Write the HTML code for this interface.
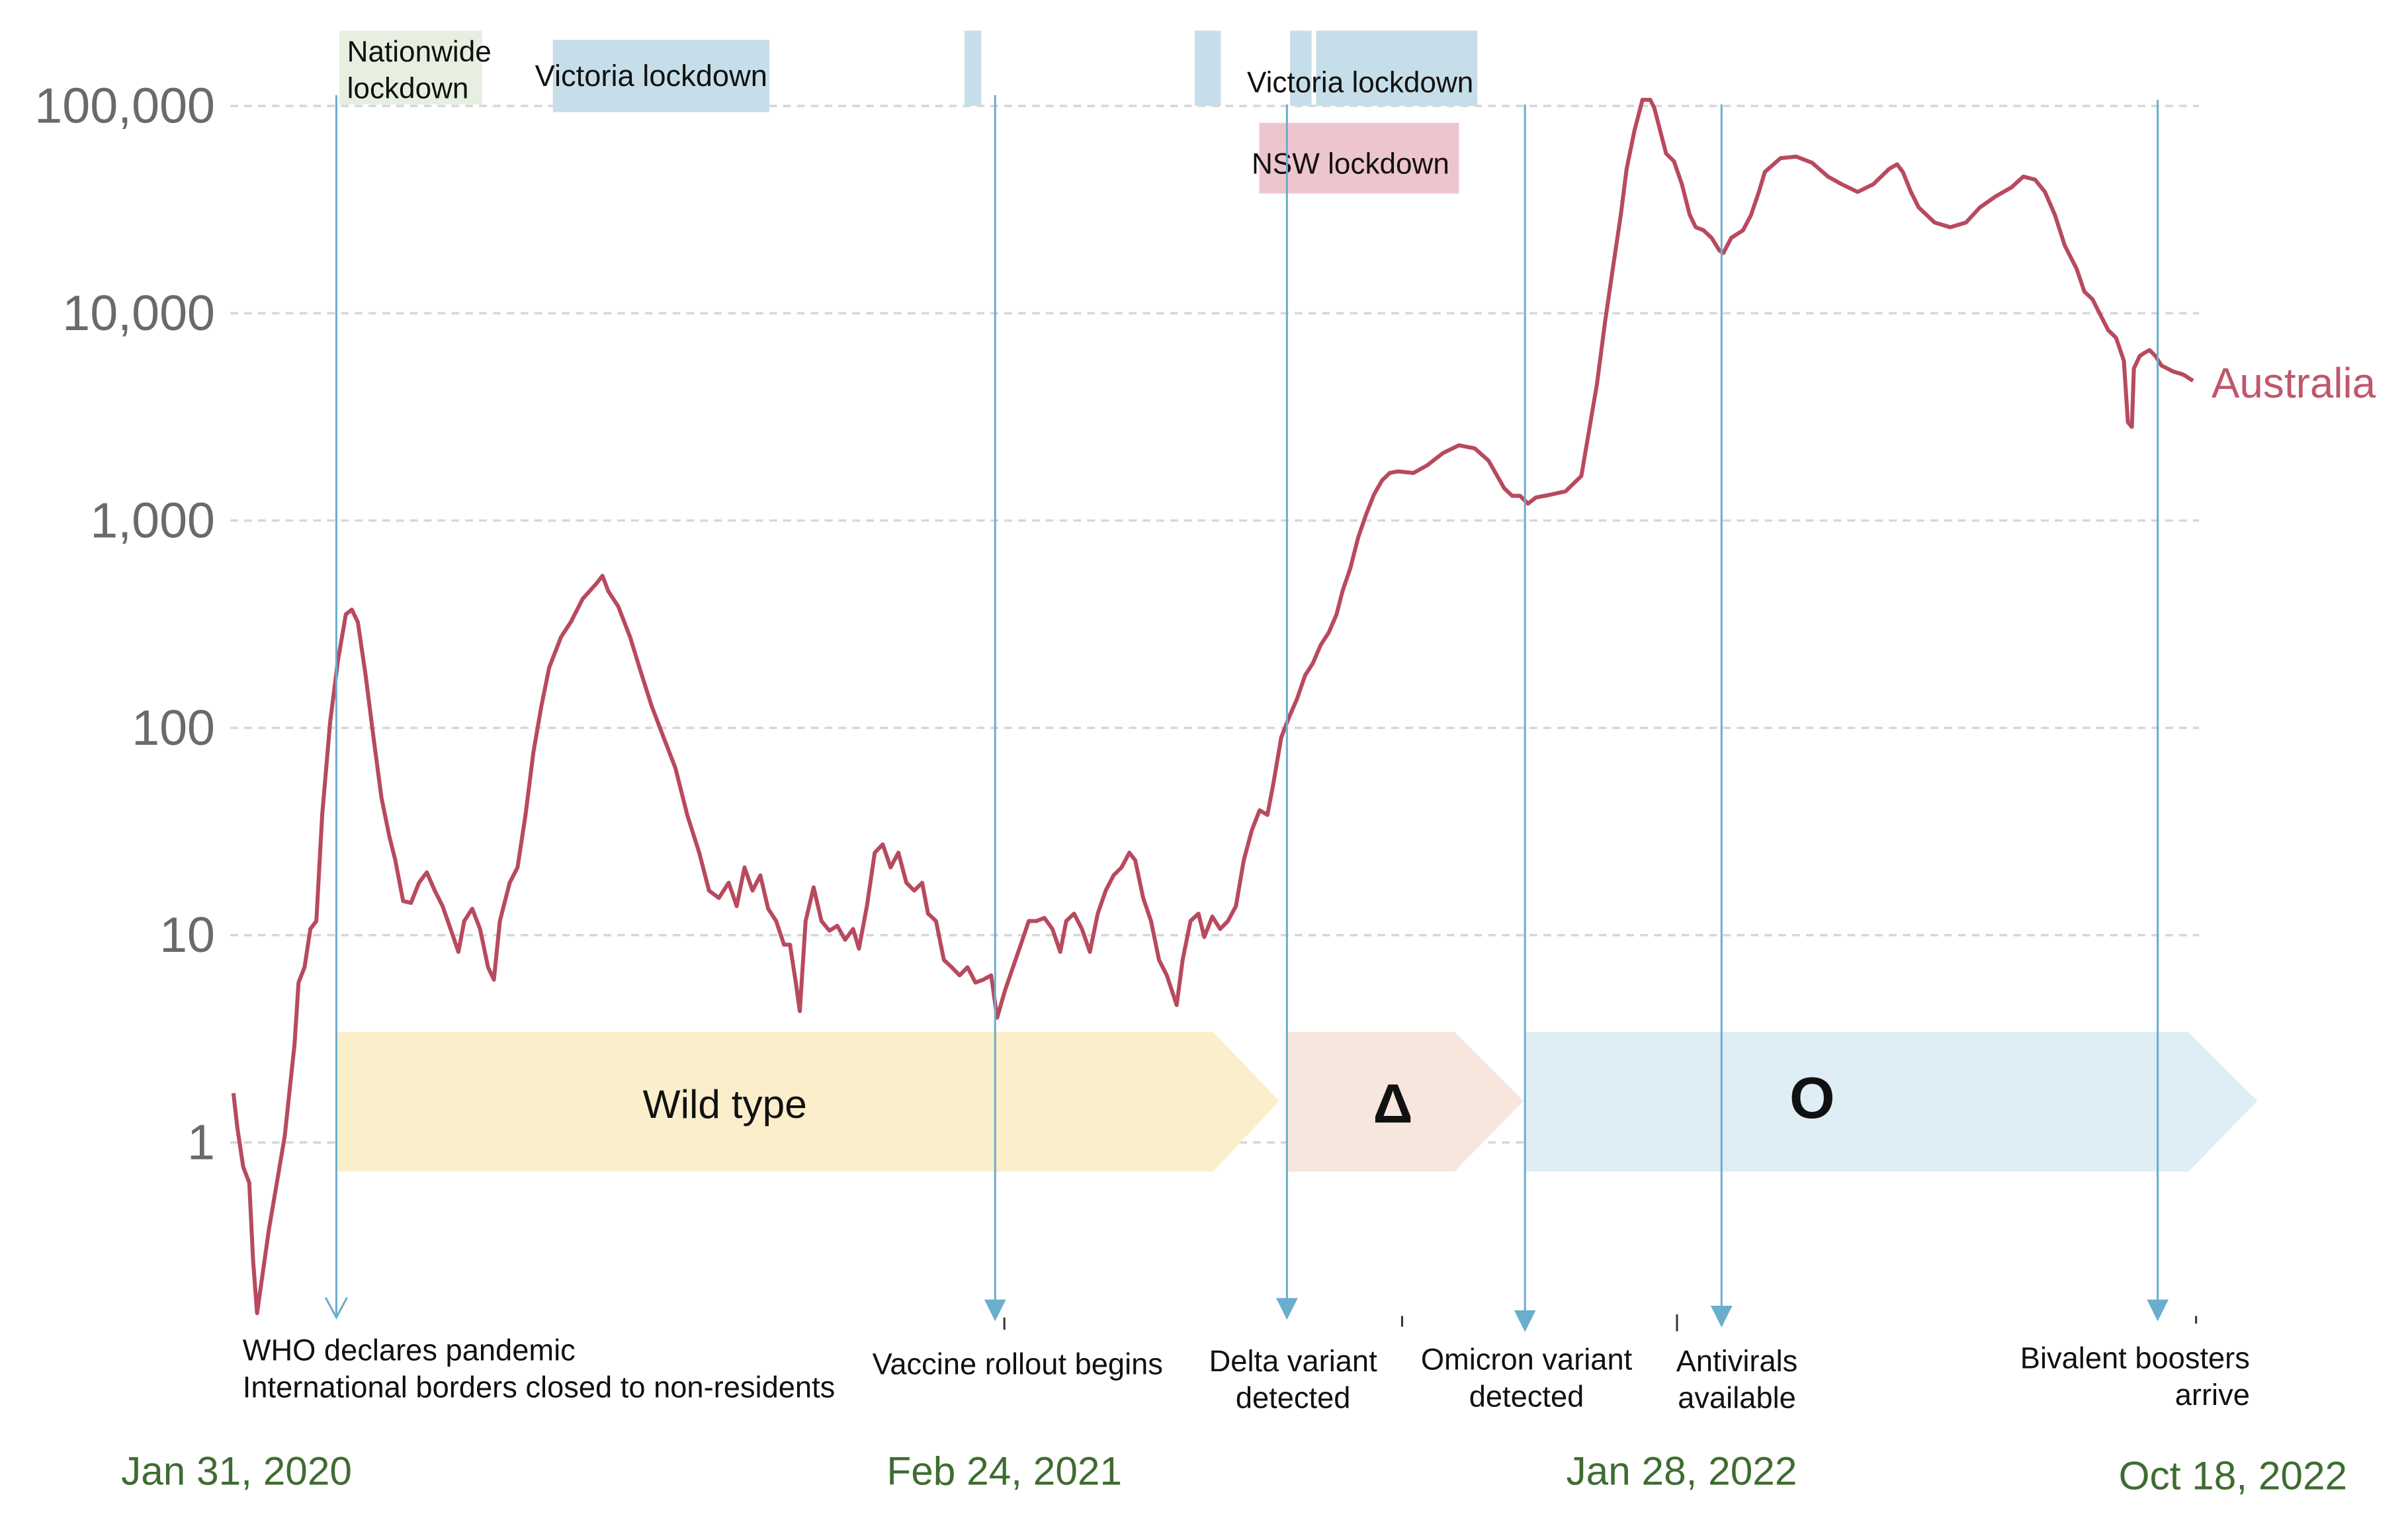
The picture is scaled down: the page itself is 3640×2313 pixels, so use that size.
<!DOCTYPE html>
<html><head><meta charset="utf-8"><style>
html,body{margin:0;padding:0;background:#fff;}
svg{display:block;}
text{font-family:"Liberation Sans",sans-serif;}
</style></head><body>
<svg id="chart" width="3640" height="2313" viewBox="0 0 1568 996.4" preserveAspectRatio="none" xmlns="http://www.w3.org/2000/svg">
<g id="grid"></g>
<g id="yticks"></g>
<g>
<rect x="221" y="20" width="93" height="48" fill="#e6efe0"/>
<text x="226" y="40" font-size="19" fill="#111">Nationwide</text>
<text x="226" y="64" font-size="19" fill="#111">lockdown</text>
<rect x="360" y="26" width="141" height="47" fill="#c6dee9"/>
<text x="424" y="56" font-size="19.5" fill="#111" text-anchor="middle">Victoria lockdown</text>
<rect x="628" y="20" width="11" height="49" fill="#c6dee9"/>
<rect x="778" y="20" width="17" height="49" fill="#c6dee9"/>
<rect x="840" y="20" width="14" height="49" fill="#c6dee9"/>
<rect x="857" y="20" width="105" height="49" fill="#c6dee9"/>
<text x="812" y="60" font-size="19" fill="#111">Victoria lockdown</text>
<rect x="820" y="80" width="130" height="46" fill="#edc5cd"/>
<text x="815" y="113" font-size="19" fill="#111">NSW lockdown</text>
</g>
<g>
<polygon points="219,672 790,672 833,717 790,763 219,763" fill="#fbefcb"/>
<text x="472" y="728" font-size="26" fill="#111" text-anchor="middle">Wild type</text>
<polygon points="838,672 947,672 992,717 947,763 838,763" fill="#f7e6dd"/>
<text x="907" y="731" font-size="36" font-weight="bold" fill="#111" text-anchor="middle">Δ</text>
<polygon points="993,672 1425,672 1470,717 1425,763 993,763" fill="#dfedf5"/>
<text x="1180" y="728" font-size="38" font-weight="bold" fill="#111" text-anchor="middle">O</text>
</g>
<g id="series"></g>
<text x="1440" y="259" font-size="27.5" fill="#c0566a">Australia</text>
<g stroke="#6aaecd" stroke-width="1.3" fill="#6aaecd">
<line x1="219" y1="62" x2="219" y2="857"/>
<polyline points="212,845 219,858 226,845" fill="none"/>
<line x1="648" y1="62" x2="648" y2="848"/>
<polygon points="642,847 654,847 648,859"/>
<line x1="838" y1="68" x2="838" y2="846"/>
<polygon points="832,846 844,846 838,858"/>
<line x1="993" y1="68" x2="993" y2="854"/>
<polygon points="987,854 999,854 993,866"/>
<line x1="1121" y1="68" x2="1121" y2="851"/>
<polygon points="1115,851 1127,851 1121,863"/>
<line x1="1405" y1="65" x2="1405" y2="847"/>
<polygon points="1399,847 1411,847 1405,859"/>
</g>
<g stroke="#333" stroke-width="1.3">
<line x1="654" y1="858" x2="654" y2="866"/><line x1="913" y1="857" x2="913" y2="864"/>
<line x1="1092" y1="856" x2="1092" y2="867"/><line x1="1430" y1="857" x2="1430" y2="862"/>
</g>
<g font-size="19.5" fill="#111">
<text x="158" y="886">WHO declares pandemic</text>
<text x="158" y="910">International borders closed to non-residents</text>
<text x="568" y="895">Vaccine rollout begins</text>
<text x="842" y="893" text-anchor="middle">Delta variant</text>
<text x="842" y="917" text-anchor="middle">detected</text>
<text x="994" y="892" text-anchor="middle">Omicron variant</text>
<text x="994" y="916" text-anchor="middle">detected</text>
<text x="1131" y="893" text-anchor="middle">Antivirals</text>
<text x="1131" y="917" text-anchor="middle">available</text>
<text x="1465" y="891" text-anchor="end">Bivalent  boosters</text>
<text x="1465" y="915" text-anchor="end">arrive</text>
</g>
<g font-size="26" fill="#3f6c31" text-anchor="middle">
<text x="154" y="967">Jan 31, 2020</text>
<text x="654" y="967">Feb 24, 2021</text>
<text x="1095" y="967">Jan 28, 2022</text>
<text x="1454" y="970">Oct 18, 2022</text>
</g>
</svg>
<script>
const tickValues = [1, 10, 100, 1000, 10000, 100000];
const tickLabels = ["1", "10", "100", "1,000", "10,000", "100,000"];
const days = [0,2,5,8,10,12,18,26,31,33,36,39,42,45,49,53,57,60,63,67,71,75,79,82,86,90,94,98,102,106,110,114,117,121,125,129,132,135,140,144,148,152,156,160,166,171,177,184,187,190,195,201,207,212,218,224,230,236,241,246,251,255,259,263,267,271,275,279,282,285,287,290,294,298,302,306,310,314,317,321,325,329,333,337,341,345,349,352,356,360,364,368,372,376,380,384,387,391,395,399,403,407,411,415,419,422,426,430,434,438,442,446,450,454,457,461,465,469,473,478,481,485,489,492,496,500,504,508,512,516,520,524,527,531,535,539,543,547,551,555,559,562,566,570,574,578,582,586,590,598,605,613,621,629,636,644,648,652,656,660,668,675,683,687,691,695,699,703,706,710,714,718,720,724,726,730,734,738,741,745,749,753,755,759,765,769,773,776,784,792,800,808,815,823,831,839,843,846,850,854,862,870,878,885,893,901,907,913,918,923,928,934,938,942,946,950,954,958,960,962,963,966,968,971,974,977,983,988,993];
const cases = [1.73,1.17,0.76,0.64,0.27,0.15,0.38,1.07,2.98,5.9,7.0,10.7,11.7,38,107,212,353,372,324,179,90,46,30,23,14.6,14.3,17.9,20.1,16.4,13.8,10.7,8.3,11.7,13.4,10.7,7.0,6.1,11.7,17.9,21.2,38,76,127,195,274,324,419,497,541,456,385,274,179,127,90,64,38,25,16.4,15.1,17.9,13.8,21.2,16.4,19.4,13.4,11.7,9.0,9.0,5.9,4.3,11.7,17.0,11.7,10.5,11.1,9.5,10.7,8.6,13.8,25,27.4,21.2,25,17.9,16.4,17.9,12.7,11.7,7.6,7.0,6.4,7.0,5.9,6.1,6.4,4.0,5.4,7.0,9.0,11.7,11.7,12.1,10.7,8.3,11.7,12.7,10.7,8.3,12.7,16.4,19.4,21.2,25,23,15.1,11.7,7.6,6.4,4.6,7.6,11.7,12.7,9.8,12.3,10.7,11.7,13.8,23,32,40,38,54,90,113,138,179,205,251,288,353,456,589,829,1072,1336,1560,1698,1726,1698,1849,2118,2307,2230,1946,1431,1315,1315,1206,1292,1336,1383,1641,2735,4561,9030,16400,29800,49700,76000,107000,107000,98000,69900,58900,54100,41900,29800,26000,25100,23100,20100,19500,23100,25100,29800,38500,48000,56000,57000,53200,45600,41900,38500,41900,49700,52300,48000,38500,32400,27400,26000,27400,32400,36600,40500,45600,44100,38500,29800,21200,16400,12700,11700,9840,8290,7610,5890,2980,2830,5410,6210,6410,6640,6210,5600,5230,5060,4720];
const X0 = 152, PX_PER_DAY = 1.285, Y1 = 744, DECADE = 135;
const xScale = d => X0 + d * PX_PER_DAY;
const yScale = v => Y1 - Math.log10(v) * DECADE;
const NS = "http://www.w3.org/2000/svg";
const grid = document.getElementById('grid');
const yt = document.getElementById('yticks');
tickValues.forEach((v, i) => {
  const y = yScale(v);
  const ln = document.createElementNS(NS, 'line');
  
  
  ln.setAttribute('x1', 150); ln.setAttribute('x2', 1432);
  ln.setAttribute('y1', y); ln.setAttribute('y2', y);
  ln.setAttribute('stroke', '#d6d6d6'); ln.setAttribute('stroke-width', '1.5');
  ln.setAttribute('stroke-dasharray', '5 4');
  grid.appendChild(ln);
  const t = document.createElementNS(NS, 'text');
  
  
  t.setAttribute('x', 140); t.setAttribute('y', y + 11);
  t.setAttribute('text-anchor', 'end'); t.setAttribute('font-size', '32.5');
  t.setAttribute('fill', '#6a6a6a');
  t.textContent = tickLabels[i];
  yt.appendChild(t);
});
const p = document.createElementNS(NS, 'path');


p.setAttribute('d', days.map((d, i) => (i ? 'L' : 'M') + xScale(d).toFixed(1) + ',' + yScale(cases[i]).toFixed(1)).join(' '));
p.setAttribute('fill', 'none'); p.setAttribute('stroke', '#b84a5e');
p.setAttribute('stroke-width', '2.6'); p.setAttribute('stroke-linejoin', 'round');
document.getElementById('series').appendChild(p);
</script>
</body></html>
